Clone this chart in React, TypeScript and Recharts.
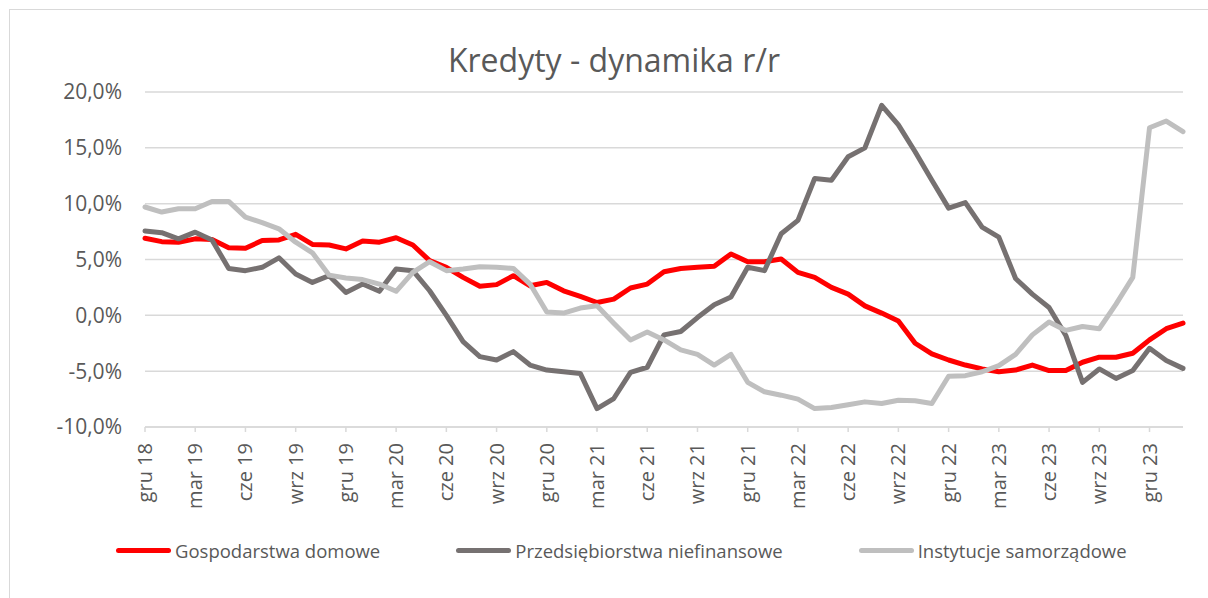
import React from "react"
import { LineChart, Line, XAxis, YAxis, CartesianGrid } from "recharts"

// miesiące od gru 18 do lut 24
const MONTHS = ["sty", "lut", "mar", "kwi", "maj", "cze", "lip", "sie", "wrz", "paź", "lis", "gru"]
const START_YEAR = 18
const START_MONTH = 11
const POINTS = 63

const labels: string[] = []
for (let i = 0; i < POINTS; i++) {
  const m = (START_MONTH + i) % 12
  const y = START_YEAR + Math.floor((START_MONTH + i) / 12)
  labels.push(`${MONTHS[m]} ${y}`)
}

const households = [
  6.9, 6.6, 6.55, 6.85, 6.8, 6.05, 6.0, 6.7, 6.75, 7.25, 6.35, 6.3, 5.95,
  6.65, 6.55, 6.95, 6.3, 4.9, 4.3, 3.4, 2.6, 2.75, 3.55, 2.65, 2.95,
  2.2, 1.7, 1.15, 1.45, 2.45, 2.8, 3.9, 4.2, 4.3, 4.4, 5.5, 4.8,
  4.8, 5.05, 3.85, 3.4, 2.5, 1.9, 0.85, 0.2, -0.5, -2.5, -3.45, -4.0,
  -4.45, -4.8, -5.05, -4.9, -4.45, -4.95, -4.95, -4.2, -3.75, -3.75, -3.4, -2.2,
  -1.2, -0.7
]

const companies = [
  7.55, 7.4, 6.85, 7.45, 6.75, 4.2, 4.0, 4.3, 5.15, 3.7, 2.95, 3.55, 2.05,
  2.8, 2.15, 4.15, 4.0, 2.2, 0.0, -2.35, -3.7, -4.0, -3.25, -4.45, -4.9,
  -5.05, -5.2, -8.35, -7.45, -5.1, -4.65, -1.75, -1.45, -0.2, 0.95, 1.65, 4.3,
  4.0, 7.3, 8.5, 12.25, 12.1, 14.2, 15.0, 18.8, 17.05, 14.65, 12.1, 9.6,
  10.1, 7.9, 7.0, 3.3, 1.9, 0.7, -1.8, -6.0, -4.8, -5.65, -4.95, -2.95,
  -4.05, -4.75
]

const localGov = [
  9.7, 9.25, 9.55, 9.55, 10.2, 10.2, 8.8, 8.3, 7.75, 6.55, 5.6, 3.6, 3.35,
  3.2, 2.8, 2.15, 3.85, 4.8, 4.0, 4.15, 4.35, 4.3, 4.2, 2.8, 0.3,
  0.2, 0.65, 0.85, -0.7, -2.2, -1.5, -2.2, -3.1, -3.5, -4.45, -3.5, -6.0,
  -6.85, -7.15, -7.5, -8.35, -8.25, -8.0, -7.75, -7.9, -7.6, -7.65, -7.9, -5.45,
  -5.4, -5.05, -4.5, -3.5, -1.75, -0.6, -1.35, -1.0, -1.2, 1.0, 3.4, 16.8,
  17.4, 16.45
]

const yTicks = [-10, -5, 0, 5, 10, 15, 20]

const series = [
  { key: "gd", name: "Gospodarstwa domowe", color: "#FF0000", values: households },
  { key: "pn", name: "Przedsiębiorstwa niefinansowe", color: "#767171", values: companies },
  { key: "is", name: "Instytucje samorządowe", color: "#BFBFBF", values: localGov },
]

const data = labels.map((label, i) => {
  const row: Record<string, string | number> = { label }
  series.forEach(s => { row[s.key] = s.values[i] })
  return row
})

const TEXT = "#595959"
const GRID = "#D9D9D9"
const FONT = "'Open Sans', sans-serif"

const fmt = (v: number) => v.toFixed(1).replace(".", ",") + "%"

const XTick = (props: any) => {
  const { x, y, payload } = props
  return (
    <text
      x={x}
      y={y}
      transform={`rotate(-90 ${x} ${y})`}
      textAnchor="end"
      dy="0.35em"
      fill={TEXT}
      fontSize={20}
      fontFamily={FONT}
    >
      {payload.value}
    </text>
  )
}

export default function App() {
  return (
    <div style={{ position: "absolute", left: 0, top: 0, width: 1208, height: 598, background: "#fff", overflow: "hidden", fontFamily: FONT }}>
      <div style={{ position: "absolute", left: 9, top: 9, width: 1300, height: 700, borderLeft: `1px solid ${GRID}`, borderTop: `1px solid ${GRID}` }} />

      <div style={{ position: "absolute", left: 0, top: 40, width: 1228, textAlign: "center", fontSize: 32, lineHeight: "40px", color: TEXT }}>
        Kredyty - dynamika r/r
      </div>

      <div style={{ position: "absolute", left: 0, top: 0 }}>
        <LineChart width={1208} height={598} data={data} margin={{ top: 92, right: 25, bottom: 101, left: 0 }}>
          <CartesianGrid vertical={false} stroke={GRID} strokeWidth={1.5} />
          <XAxis
            dataKey="label"
            interval={2}
            height={70}
            tickSize={5}
            tickMargin={11}
            axisLine={{ stroke: GRID, strokeWidth: 1.5 }}
            tickLine={{ stroke: GRID, strokeWidth: 1.5 }}
            tick={<XTick />}
          />
          <YAxis
            width={145}
            domain={[-10, 20]}
            ticks={yTicks}
            axisLine={false}
            tickLine={false}
            tickSize={0}
            tickMargin={23}
            tickFormatter={fmt}
            tick={{ fill: TEXT, fontSize: 21, fontFamily: FONT }}
          />
          {series.map(s => (
            <Line
              key={s.key}
              dataKey={s.key}
              name={s.name}
              type="linear"
              stroke={s.color}
              strokeWidth={5}
              strokeLinejoin="round"
              strokeLinecap="round"
              dot={false}
              activeDot={false}
              isAnimationActive={false}
            />
          ))}
        </LineChart>
      </div>

      <div style={{ position: "absolute", left: 116, top: 537, height: 26, display: "flex", alignItems: "center" }}>
        {series.map((s, i) => (
          <div key={s.key} style={{ display: "flex", alignItems: "center", marginRight: i < series.length - 1 ? 76 : 0 }}>
            <div style={{ width: 55, height: 5, borderRadius: 3, background: s.color, marginRight: 4 }} />
            <span style={{ fontSize: 18.5, color: TEXT, whiteSpace: "nowrap" }}>{s.name}</span>
          </div>
        ))}
      </div>
    </div>
  )
}
